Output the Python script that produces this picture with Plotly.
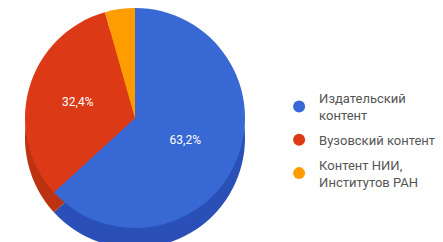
import plotly.graph_objects as go

categories = ["Издательский<br>контент", "Вузовский контент", "Контент НИИ,<br>Институтов РАН"]
values = [63.2, 32.4, 4.4]
value_labels = ["63,2%", "32,4%", ""]
top_colors = ["#3868d4", "#dc3a16", "#ff9c00"]
side_colors = ["#2a50b8", "#bd3210", "#d88400"]

W, H = 443, 242
cx, r = 127, 110
top_y0, depth = 0, 20

def dom(y_top):
    return dict(x=[(cx - r) / W, (cx + r) / W],
                y=[max(0, 1 - (y_top + 2 * r) / H), 1 - y_top / H])

fig = go.Figure()
# side (depth) layer
fig.add_trace(go.Pie(values=values, marker=dict(colors=side_colors, line=dict(width=0)),
                     sort=False, direction="clockwise", rotation=0,
                     textinfo="none", hoverinfo="skip", showlegend=False,
                     domain=dom(top_y0 + depth)))
# top face
fig.add_trace(go.Pie(values=values, marker=dict(colors=top_colors, line=dict(width=0)),
                     sort=False, direction="clockwise", rotation=0,
                     text=value_labels, texttemplate="%{text}", textposition="inside",
                     insidetextorientation="horizontal",
                     textfont=dict(color="white", size=12, family="Roboto"),
                     hoverinfo="skip", showlegend=False,
                     domain=dom(top_y0)))
# legend entries with circle markers
for i, (name, col) in enumerate(zip(categories, top_colors)):
    fig.add_trace(go.Scatter(x=[None], y=[None], mode="markers", name=name,
                             legendgroup="g%d" % i,
                             marker=dict(symbol="circle", size=12, color=col)))

fig.update_layout(
    width=W, height=H, margin=dict(l=0, r=0, t=0, b=0),
    paper_bgcolor="white", plot_bgcolor="white",
    xaxis=dict(visible=False), yaxis=dict(visible=False),
    showlegend=True,
    legend=dict(x=0.612, y=0.69, xanchor="left", yanchor="top",
                font=dict(size=13, color="#555555", family="Roboto"),
                tracegroupgap=5, itemsizing="constant", bgcolor="rgba(0,0,0,0)"),
)
fig.write_html("out.html")
